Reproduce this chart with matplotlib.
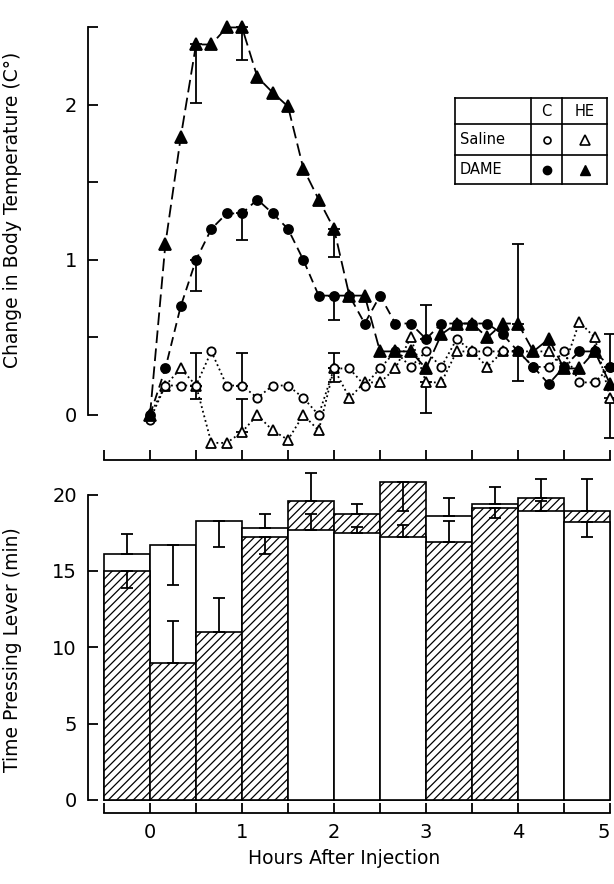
import matplotlib.pyplot as plt

plt.rcParams['font.family'] = ['DejaVu Sans']
plt.rcParams['hatch.linewidth'] = 0.9

# %% data - body temperature, every 10 min after injection
minutes = [0, 10, 20, 30, 40, 50, 60, 70, 80, 90, 100, 110, 120, 130, 140, 150,
           160, 170, 180, 190, 200, 210, 220, 230, 240, 250, 260, 270, 280, 290, 300]
dameHE = [0.00, 1.10, 1.79, 2.39, 2.39, 2.50, 2.50, 2.18, 2.08, 1.99, 1.59, 1.39, 1.20, 0.77, 0.77, 0.41,
          0.41, 0.41, 0.30, 0.52, 0.59, 0.59, 0.50, 0.59, 0.59, 0.41, 0.49, 0.30, 0.30, 0.41, 0.20]
dameC = [0.00, 0.30, 0.70, 1.00, 1.20, 1.30, 1.30, 1.39, 1.30, 1.20, 1.00, 0.77, 0.77, 0.77, 0.59, 0.77,
         0.59, 0.59, 0.49, 0.59, 0.59, 0.59, 0.59, 0.52, 0.41, 0.31, 0.20, 0.31, 0.41, 0.41, 0.31]
salC = [-0.03, 0.19, 0.19, 0.19, 0.41, 0.19, 0.19, 0.11, 0.19, 0.19, 0.11, 0.00, 0.30, 0.30, 0.19, 0.30,
        0.41, 0.31, 0.41, 0.31, 0.49, 0.41, 0.41, 0.41, 0.41, 0.31, 0.31, 0.41, 0.21, 0.21, 0.31]
salHE = [0.00, 0.19, 0.30, 0.19, -0.18, -0.18, -0.11, 0.00, -0.10, -0.16, 0.00, -0.10, 0.30, 0.11, 0.21, 0.21,
         0.30, 0.50, 0.21, 0.21, 0.41, 0.41, 0.31, 0.41, 0.41, 0.41, 0.41, 0.31, 0.60, 0.50, 0.11]
# error bars: index -> (down, up)
dameHEerr = {3: (0.38, 0), 6: (0.21, 0), 12: (0.18, 0), 24: (0, 0.51)}
dameCerr = {3: (0.20, 0), 6: (0.17, 0), 12: (0.16, 0), 18: (0, 0.22)}
salCerr = {3: (0, 0.21), 6: (0, 0.21), 12: (0, 0.10), 24: (0.19, 0), 30: (0, 0.21)}
salHEerr = {3: (0.09, 0), 6: (0, 0.21), 12: (0.09, 0), 18: (0.20, 0), 30: (0.26, 0)}

# %% data - time pressing lever, half hour bins
binStart = [-0.5, 0.0, 0.5, 1.0, 1.5, 2.0, 2.5, 3.0, 3.5, 4.0, 4.5]
openVals = [16.1, 16.7, 18.3, 17.8, 17.7, 17.5, 17.2, 18.6, 19.4, 18.9, 18.2]
hatchVals = [15.0, 9.0, 11.0, 17.2, 19.6, 18.7, 20.8, 16.9, 19.1, 19.8, 18.9]
openErr = [1.3, -2.6, -1.7, 0.9, 1.0, 0.4, 0.8, 1.2, 1.1, 0.7, -1.0]   # + up, - down
hatchErr = [-1.1, 2.7, 2.2, -1.1, 1.8, 0.7, -1.9, 1.4, -0.6, 1.2, 2.1]

hours = [m / 60 for m in minutes]

W, H = 614, 884
fig = plt.figure(figsize=(W / 100, H / 100), dpi=100)


def axRect(x0, y0, x1, y1):  # pixel box, y counted from top
    return [x0 / W, 1 - y1 / H, (x1 - x0) / W, (y1 - y0) / H]


def styleAxis(ax, ybounds, xspine):
    ax.patch.set_visible(False)
    for s in ["top", "right"]:
        ax.spines[s].set_visible(False)
    ax.spines["left"].set_bounds(*ybounds)
    ax.spines["bottom"].set_position(("data", xspine))
    ax.spines["bottom"].set_bounds(-0.5, 5.0)
    for s in ["left", "bottom"]:
        ax.spines[s].set_linewidth(1.3)
    ax.set_xticks([0, 1, 2, 3, 4, 5])
    ax.set_xticks([-0.5, 0.5, 1.5, 2.5, 3.5, 4.5], minor=True)
    ax.tick_params(which="both", direction="in", length=7, width=1.3, labelsize=14)


# %% top panel
ax1 = fig.add_axes(axRect(88, 20, 614, 470))
ax1.set_xlim(-0.674, 5.043)
ax1.set_ylim(-0.355, 2.548)
styleAxis(ax1, (0, 2.5), -0.29)
ax1.set_yticks([0, 0.5, 1, 1.5, 2, 2.5])
ax1.set_yticklabels(["0", "", "1", "", "2", ""])
ax1.set_xticklabels([])
ax1.tick_params(axis="y", pad=8)

series = [
    (salHE, salHEerr, dict(ls=":", marker="^", mfc="white", ms=7)),
    (salC, salCerr, dict(ls=":", marker="o", mfc="white", ms=6)),
    (dameC, dameCerr, dict(ls=(0, (5, 3)), marker="o", mfc="k", ms=6.5)),
    (dameHE, dameHEerr, dict(ls=(0, (7, 3)), marker="^", mfc="k", ms=8)),
]
for vals, errs, kw in series:
    ax1.plot(hours, vals, color="k", lw=1.3, mec="k", mew=1.3, zorder=3, **kw)
    for i, (dn, up) in errs.items():
        ax1.errorbar(hours[i], vals[i], yerr=[[dn], [up]], fmt="none", ecolor="k",
                     elinewidth=1.3, capsize=4, capthick=1.3, zorder=2)

ax1.set_ylabel("Change in Body Temperature (C°)", fontsize=13.5)
ax1.yaxis.set_label_coords(-0.125, 0.578)

# legend table
ax3 = fig.add_axes(axRect(455, 98, 607, 184))
ax3.set_xlim(0, 152)
ax3.set_ylim(86, 0)
ax3.axis("off")
colX = [0, 76, 107, 152]
rowY = [0, 26, 57, 86]
for x in colX:
    ax3.plot([x, x], [rowY[0], rowY[-1]], color="k", lw=1.2, clip_on=False)
for y in rowY:
    ax3.plot([colX[0], colX[-1]], [y, y], color="k", lw=1.2, clip_on=False)
ax3.text(91.5, 13, "C", ha="center", va="center", fontsize=10.5)
ax3.text(129.5, 13, "HE", ha="center", va="center", fontsize=10.5)
ax3.text(5, 41.5, "Saline", ha="left", va="center", fontsize=10.5)
ax3.text(5, 71.5, "DAME", ha="left", va="center", fontsize=10.5)
ax3.plot(91.5, 41.5, marker="o", mfc="white", mec="k", ms=5, mew=1.2)
ax3.plot(129.5, 41.5, marker="^", mfc="white", mec="k", ms=6.5, mew=1.2)
ax3.plot(91.5, 71.5, marker="o", mfc="k", mec="k", ms=6)
ax3.plot(129.5, 71.5, marker="^", mfc="k", mec="k", ms=7)

# %% bottom panel
ax2 = fig.add_axes(axRect(88, 465, 614, 820))
ax2.set_xlim(-0.674, 5.043)
ax2.set_ylim(-1.31, 21.94)
styleAxis(ax2, (0, 20), -0.85)
ax2.set_yticks([0, 5, 10, 15, 20])
ax2.tick_params(axis="y", pad=8)
ax2.tick_params(axis="x", pad=7)
for lab in ax2.get_xticklabels():
    if lab.get_text() == "5":
        lab.set_horizontalalignment("right")

for x0, o, h, oe, he in zip(binStart, openVals, hatchVals, openErr, hatchErr):
    zo, zh = (2, 3) if o >= h else (3, 2)
    ax2.bar(x0, o, width=0.5, align="edge", facecolor="white", edgecolor="k",
            linewidth=1.2, zorder=zo)
    ax2.bar(x0, h, width=0.5, align="edge", facecolor="white", edgecolor="k",
            hatch="////", linewidth=1.2, zorder=zh)
    xc = x0 + 0.25
    for v, e in [(o, oe), (h, he)]:
        yerr = [[0], [e]] if e > 0 else [[-e], [0]]
        ax2.errorbar(xc, v, yerr=yerr, fmt="none", ecolor="k", elinewidth=1.3,
                     capsize=4, capthick=1.3, zorder=5)

ax2.set_ylabel("Time Pressing Lever (min)", fontsize=13.5)
ax2.yaxis.set_label_coords(-0.125, 0.48)

fig.text(344 / W, 1 - 858 / H, "Hours After Injection", ha="center", va="center", fontsize=13.5)

fig.savefig("out.png", dpi=100)
